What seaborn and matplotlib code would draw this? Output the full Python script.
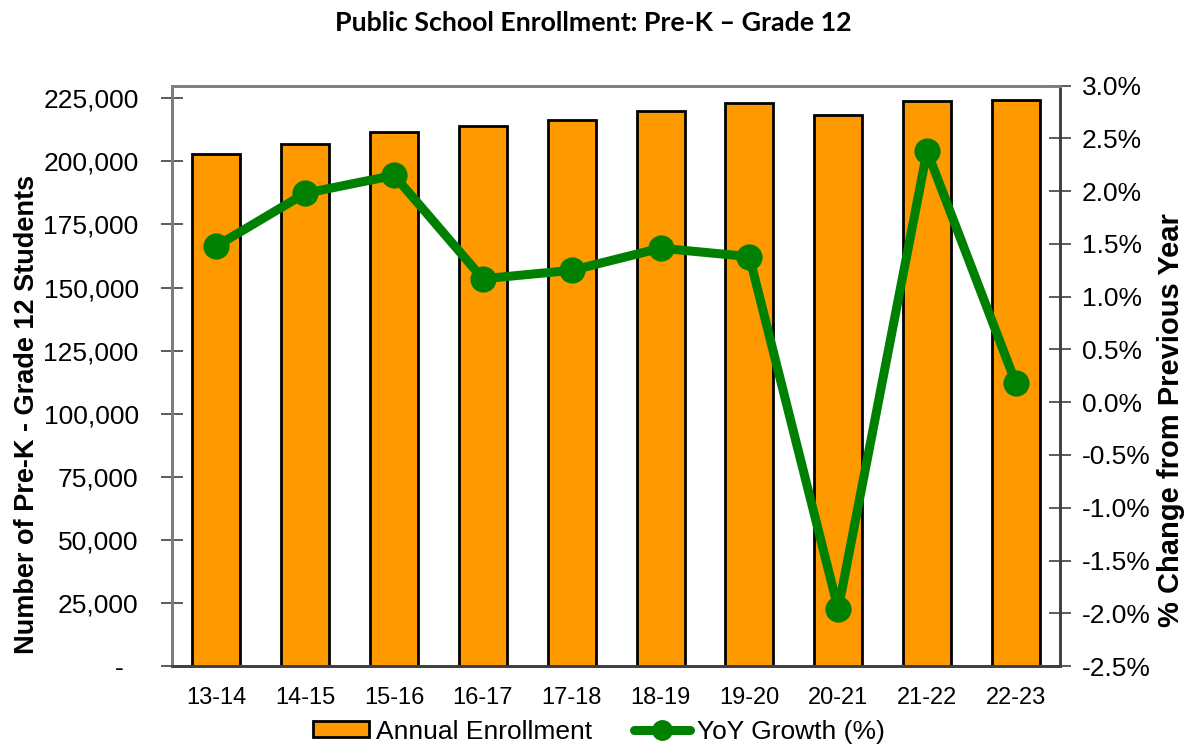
import matplotlib
matplotlib.use('Agg')
import matplotlib.pyplot as plt
import matplotlib.ticker as mticker
from matplotlib.lines import Line2D
from matplotlib.patches import Patch
import seaborn as sns

# chart data
years = ['13-14', '14-15', '15-16', '16-17', '17-18',
         '18-19', '19-20', '20-21', '21-22', '22-23']
enrollment = [203100, 207000, 211600, 213900, 216500,
              219800, 223000, 218500, 223800, 224200]
growth = [1.48, 1.98, 2.15, 1.17, 1.25, 1.46, 1.38, -1.96, 2.38, 0.18]

sns.set_style('white')
plt.rcParams['font.family'] = ['Liberation Sans', 'DejaVu Sans']
plt.rcParams['text.color'] = 'black'
plt.rcParams['axes.labelcolor'] = 'black'
plt.rcParams['xtick.color'] = 'black'
plt.rcParams['ytick.color'] = 'black'

orange = '#FF9900'
green = '#008000'

fig = plt.figure(figsize=(11.86, 7.45), dpi=100)
ax = fig.add_axes([0.145, 0.106, 0.749, 0.779])

sns.barplot(x=years, y=enrollment, color=orange, edgecolor='black',
            linewidth=2, width=0.54, saturation=1, ax=ax)
ax.set_ylim(0, 230000)
ax.set_xlim(-0.5, len(years) - 0.5)
ax.set_yticks(range(0, 225001, 25000))
ax.yaxis.set_major_formatter(mticker.FuncFormatter(
    lambda v, p: '-  ' if v == 0 else f'{v:,.0f}'))
ax.set_ylabel('Number of Pre-K - Grade 12 Students', fontsize=19.5,
              fontweight='bold')
ax.yaxis.set_label_coords(-0.149, 0.433)
ax.set_xlabel('')

ax2 = ax.twinx()
sns.pointplot(x=years, y=growth, color=green, markersize=14,
              linewidth=6.5, ax=ax2)
ax2.set_ylim(-2.5, 3.0)
ax2.set_xlim(-0.5, len(years) - 0.5)
ax2.set_yticks([-2.5 + 0.5 * i for i in range(12)])
ax2.yaxis.set_major_formatter(mticker.FuncFormatter(lambda v, p: f'{v:.1f}%'))
ax2.set_ylabel('% Change from Previous Year', fontsize=21,
               fontweight='bold')
ax2.yaxis.set_label_coords(1.109, 0.424)

# x ticks sit on the category boundaries, labels centred on bars
ax.set_xticks([i - 0.5 for i in range(len(years) + 1)], minor=False)
ax.set_xticklabels([])
ax.set_xticks(range(len(years)), minor=True)
ax.set_xticklabels(years, minor=True)
ax.tick_params(axis='x', which='minor', length=0, pad=15, labelsize=17)
ax.tick_params(axis='x', which='major', direction='inout', length=14,
               width=1.2, color='#404040')
ax.tick_params(axis='y', direction='inout', length=16, width=1.2,
               color='#404040', labelsize=19, pad=16)
ax2.tick_params(axis='y', direction='inout', length=16, width=1.2,
                color='#404040', labelsize=19, pad=7.5)

for a in (ax, ax2):
    for side in ['left', 'right', 'top']:
        a.spines[side].set_color('#808080')
        a.spines[side].set_linewidth(2)
    a.spines['bottom'].set_color('#404040')
    a.spines['bottom'].set_linewidth(2)
ax2.spines['right'].set_color('#404040')
ax.spines['left'].set_color('#404040')

fig.suptitle('Public School Enrollment: Pre-K \u2013 Grade 12', y=0.985,
             fontsize=19.3, fontweight='bold', family=['Lato', 'DejaVu Sans'])

handles = [Patch(facecolor=orange, edgecolor='black', linewidth=2,
                 label='Annual Enrollment'),
           Line2D([0], [0], color=green, linewidth=6.5, marker='o',
                  markersize=14, label='YoY Growth (%)')]
fig.legend(handles=handles, loc='lower center', ncol=2, frameon=False,
           fontsize=19, bbox_to_anchor=(0.505, -0.03), handlelength=2.1,
           handleheight=0.55, handletextpad=0.27, columnspacing=1.6)

fig.savefig('out.png', dpi=100)
